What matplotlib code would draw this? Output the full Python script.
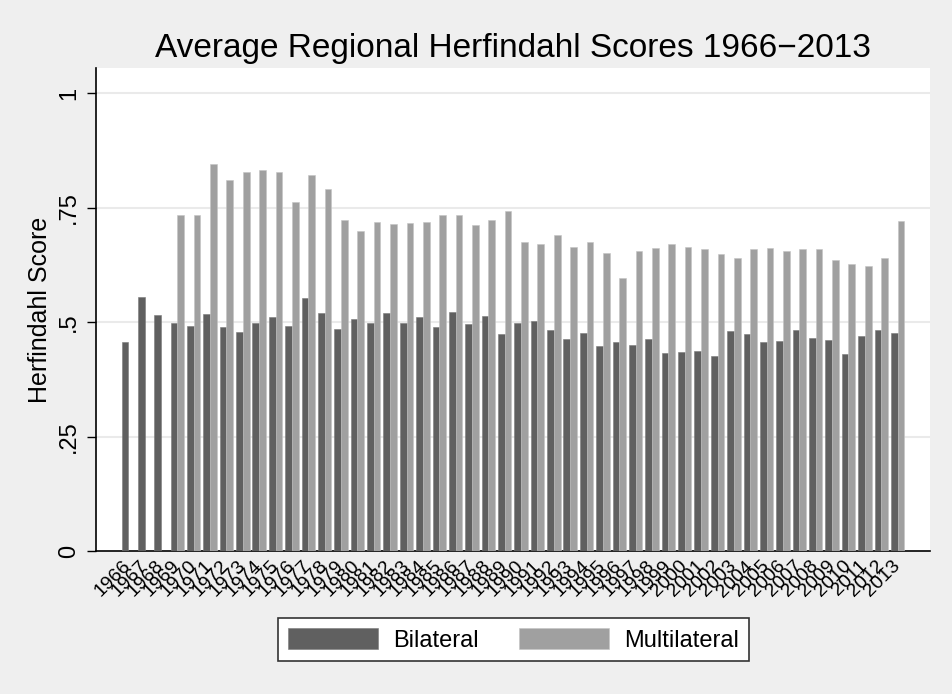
import matplotlib
matplotlib.use('Agg')
import matplotlib.pyplot as plt
import numpy as np

plt.rcParams['font.family'] = ['Liberation Sans', 'DejaVu Sans']

# Data
years = list(range(1966, 2014))
bilateral = [0.457, 0.555, 0.515, 0.498, 0.492, 0.518, 0.490, 0.479, 0.498, 0.511,
             0.492, 0.553, 0.519, 0.485, 0.507, 0.498, 0.520, 0.499, 0.512, 0.490,
             0.522, 0.496, 0.514, 0.474, 0.498, 0.503, 0.483, 0.463, 0.476, 0.447,
             0.457, 0.450, 0.463, 0.433, 0.434, 0.437, 0.426, 0.481, 0.474, 0.456,
             0.458, 0.483, 0.465, 0.462, 0.431, 0.469, 0.482, 0.477]
# no multilateral score before 1969
multilateral = [np.nan, np.nan, np.nan, 0.734, 0.733, 0.846, 0.811, 0.828, 0.833, 0.827,
                0.762, 0.822, 0.790, 0.724, 0.699, 0.718, 0.714, 0.716, 0.718, 0.734,
                0.734, 0.713, 0.723, 0.742, 0.675, 0.670, 0.691, 0.663, 0.675, 0.651,
                0.597, 0.656, 0.662, 0.670, 0.663, 0.659, 0.649, 0.640, 0.659, 0.662,
                0.655, 0.660, 0.660, 0.635, 0.626, 0.623, 0.639, 0.721]

dark = '#606060'
light = '#a0a0a0'
bg = '#efefef'

fig = plt.figure(figsize=(9.53, 6.94), dpi=100, facecolor=bg)
ax = fig.add_axes([0.1007, 0.206, 0.875, 0.696])
ax.set_facecolor('white')

x = np.arange(len(years))
w = 0.41
ax.bar(x - w / 2, bilateral, w, color=dark, edgecolor='#7a7a7a', linewidth=0.4,
       label='Bilateral', zorder=3)
ax.bar(x + w / 2, multilateral, w, color=light, edgecolor='#c4c4c4', linewidth=0.4,
       label='Multilateral', zorder=3)

ax.set_xlim(-1.97, len(years) - 1 + 1.97)
ax.set_ylim(0, 1.055)

# y axis
ax.set_yticks([0, 0.25, 0.5, 0.75, 1])
ax.set_yticklabels(['0', '.25', '.5', '.75', '1'], rotation=90, va='center')
ax.tick_params(axis='y', length=6.5, width=1, pad=5, labelsize=17)
for yv in [0.25, 0.5, 0.75, 1]:
    ax.axhline(yv, color='#eaeaea', linewidth=1.5, zorder=1)
ax.set_ylabel('Herfindahl Score', fontsize=18, labelpad=4)

# x axis
ax.set_xticks(x)
ax.set_xticklabels([str(y) for y in years], rotation=45, ha='right', va='center',
                   rotation_mode='anchor')
ax.tick_params(axis='x', length=0, pad=9, labelsize=14)

for s in ['top', 'right']:
    ax.spines[s].set_visible(False)
for s in ['left', 'bottom']:
    ax.spines[s].set_linewidth(1.2)

ax.set_title('Average Regional Herfindahl Scores 1966\u22122013', fontsize=24, pad=8)

leg = fig.legend(loc='center', bbox_to_anchor=(0.539, 0.0785), ncol=2, fontsize=17,
                 handlelength=3.8, handleheight=1.05, handletextpad=0.65,
                 columnspacing=1.7, borderpad=0.42, fancybox=False, framealpha=1)
leg.get_frame().set_edgecolor('#333333')
leg.get_frame().set_linewidth(1.2)

fig.savefig('out.png', dpi=100, facecolor=bg)
